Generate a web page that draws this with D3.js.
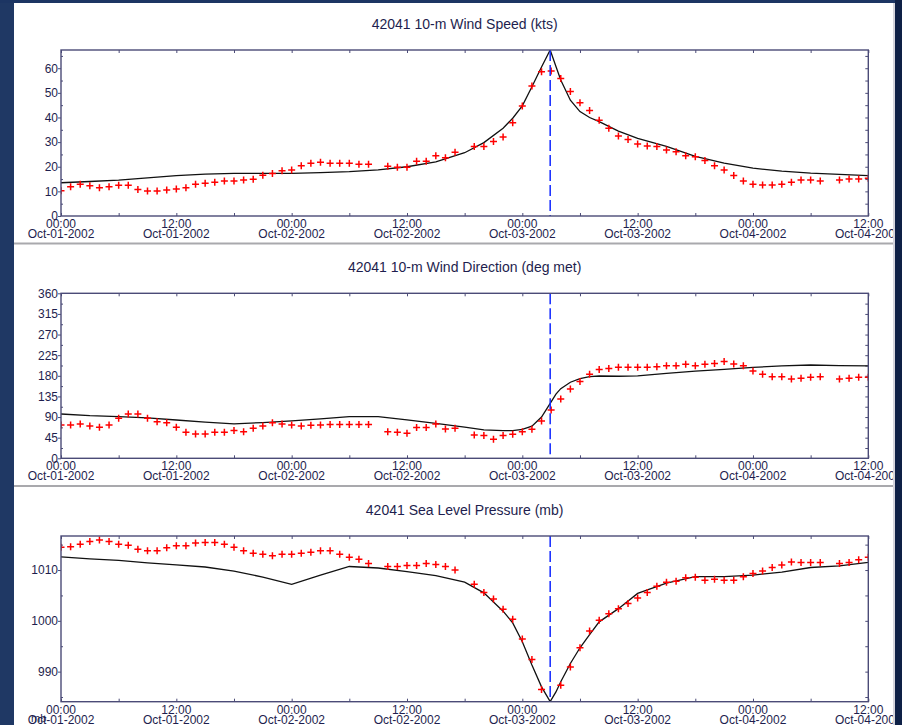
<!DOCTYPE html>
<html>
<head>
<meta charset="utf-8">
<script src="https://cdn.jsdelivr.net/npm/d3@7"></script>
<style>
  html, body { margin: 0; padding: 0; background: #1f3864; }
  svg { display: block; }
  text { font-family: "Liberation Sans", Arial, sans-serif; fill: #1e1e4e; }
</style>
</head>
<body>
<div id="chart"></div>
<script>
// observed buoy values, one per hour starting Oct-01-2002 00:00 (null = missing)
const obsSpeed = [
  10.3, 11.9, 12.9, 12.3, 11.5, 11.9, 12.5, 12.5, 10.8, 10.2, 10.2, 10.6, 11.0,
  11.5, 12.9, 13.3, 13.7, 14.2, 14.2, 14.6, 14.9, 16.5, 17.3, 18.4, 18.7,
  20.4, 21.4, 21.8, 21.4, 21.4, 21.4, 21.0, 21.0, null, 20.2, 19.8, 19.8,
  22.2, 22.2, 24.5, 23.7, 25.9, null, 28.2, 28.2, 30.2, 32.1, 37.9, 44.7,
  52.8, 58.6, 58.9, 55.8, 50.5, 46.0, 42.8, 38.9, 35.6, 32.5, 31.1, 29.2,
  28.4, 28.2, 26.8, 26.1, 24.5, 24.1, 22.5, 20.4, 18.7, 16.4, 14.2, 12.9,
  12.6, 12.6, 12.9, 13.7, 14.6, 14.6, 14.2, null, 14.6, 15.0, 15.0, 15.3
];
const obsDir = [
  72.7, 72.7, 74.9, 70.5, 67.6, 72.7, 87.3, 96.7, 96.7, 87.3, 80, 77.8, 67.6,
  56.7, 53.1, 53.1, 56.7, 56.7, 60.4, 58.2, 65.5, 70.5, 77.8, 74.9, 72.7,
  70.5, 72, 72.7, 74, 74, 74, 74, 74, null, 58.2, 56.7, 54.5,
  67, 67, 75, 64, 65.5, null, 51, 49.5, 41.5, 49.5, 52.4, 58.2,
  63.3, 81.5, 105.5, 129.5, 151.3, 167.3, 183.3, 194, 196, 198.5, 198.5, 198.5,
  198.5, 200, 202, 202, 205, 202, 205, 207, 211, 206, 202, 190.5,
  183.3, 178, 178, 173, 174.5, 176.7, 178, null, 173, 174.5, 176.7, 176.7
];
const obsPres = [
  1014.5, 1014.6, 1015.1, 1015.6, 1015.9, 1015.6, 1015.1, 1014.9, 1014.1, 1013.8, 1013.8, 1014.4, 1014.8,
  1014.8, 1015.3, 1015.4, 1015.4, 1015.1, 1014.5, 1013.8, 1013.3, 1013.1, 1012.8, 1013.1, 1013.1,
  1013.3, 1013.5, 1013.8, 1013.8, 1013.1, 1012.5, 1012.1, 1011.3, null, 1010.7, 1010.7, 1010.9,
  1010.9, 1011.3, 1011.1, 1010.7, 1010.0, null, 1007.2, 1005.6, 1004.3, 1002.3, 1000.3, 996.4,
  992.4, 986.5, null, 987.3, 990.9, 994.7, 998.0, 1000.1, 1001.4, 1002.4, 1003.4, 1004.5,
  1005.6, 1006.8, 1007.6, 1007.8, 1008.5, 1008.6, 1008.0, 1008.2, 1008.0, 1008.0, 1008.7, 1009.3,
  1009.8, 1010.5, 1011.0, 1011.6, 1011.5, 1011.5, 1011.5, null, 1011.3, 1011.5, 1012.0, 1012.5
];

// model curve, hours after Oct-01-2002 00:00
const modelHours = [0, 3, 6, 9, 12, 15, 18, 21, 24, 27, 30, 33, 36, 39, 42, 44, 46, 47, 48, 49, 50,
  50.9, 51.5, 52, 53, 54, 55, 56, 58, 60, 63, 66, 69, 72, 75, 78, 81, 84];
const modelSpeed = [13.5, 14.0, 14.6, 15.5, 16.4, 17.0, 17.3, 17.3, 17.3, 17.6, 18.0, 18.7, 20.0, 22.0,
  25.7, 29.8, 35.6, 39.7, 44.7, 52.5, 60.5, 67.4, 60.7, 55.2, 47.0, 42.4, 40.0, 38.3, 34.5, 31.5,
  28.3, 24.2, 21.5, 19.4, 18.2, 17.4, 16.9, 16.4];
const modelDir = [96.7, 93, 91, 88, 83.6, 79, 75, 78, 81.5, 86, 91, 91, 84, 76, 68, 62, 60.4, 60.4,
  63, 70, 90, 120, 140, 152, 166, 174, 178, 179.6, 179, 180, 185.5, 190, 194, 198.5, 201.5, 203.6,
  202, 201.5];
const modelPres = [1012.6, 1012.2, 1011.9, 1011.4, 1011.0, 1010.6, 1009.8, 1008.6, 1007.2, 1009.0,
  1010.7, 1010.4, 1009.7, 1008.9, 1007.6, 1005.5, 1001.9, 999.6, 995.9, 991.3, 987.0, 984.1, 986.0,
  988.0, 991.6, 994.7, 997.3, 999.8, 1002.4, 1005.4, 1007.4, 1008.7, 1008.7, 1009.0, 1009.6,
  1010.5, 1010.8, 1011.5];

// time of the vertical dashed marker (hours)
const markerHour = 50.9;

const speedTicks = [0, 10, 20, 30, 40, 50, 60];
const speedMinor = [5, 15, 25, 35, 45, 55, 65];
const dirTicks = [0, 45, 90, 135, 180, 225, 270, 315, 360];
const dirMinor = [22.5, 67.5, 112.5, 157.5, 202.5, 247.5, 292.5, 337.5];
const presTicks = [990, 1000, 1010];
const presMinor = [985, 995, 1005, 1015];

const t0 = Date.UTC(2002, 9, 1, 0, 0);
const hourToDate = (h) => new Date(t0 + h * 3600 * 1000);

const panels = [
  { title: "42041 10-m Wind Speed (kts)", obs: obsSpeed, model: modelSpeed,
    domain: [0, 67.4], ticks: speedTicks, minor: speedMinor, top: 50, bottom: 216 },
  { title: "42041 10-m Wind Direction (deg met)", obs: obsDir, model: modelDir,
    domain: [0, 360], ticks: dirTicks, minor: dirMinor, top: 293.3, bottom: 458.3 },
  { title: "42041 Sea Level Pressure (mb)", obs: obsPres, model: modelPres,
    domain: [984.08, 1016.7], ticks: presTicks, minor: presMinor, top: 536, bottom: 701.7 },
];

const W = 902, H = 725;
const left = 61, right = 868.3;
const axisColor = "#4b4b77";

const svg = d3.select("#chart").append("svg").attr("width", W).attr("height", H);

// window frame
svg.append("rect").attr("width", W).attr("height", H).attr("fill", "#1f3864");
svg.append("rect").attr("x", 14).attr("y", 3).attr("width", 879).attr("height", H - 3).attr("fill", "#ffffff");
[243.5, 486].forEach((yy) => {
  svg.append("line").attr("x1", 14).attr("x2", 893).attr("y1", yy).attr("y2", yy)
    .attr("stroke", "#a9a9ad").attr("stroke-width", 2);
});

const x = d3.scaleUtc().domain([hourToDate(0), hourToDate(84)]).range([left, right]);

panels.forEach((p, i) => {
  const y = d3.scaleLinear().domain(p.domain).range([p.bottom, p.top]);
  const g = svg.append("g");

  g.append("clipPath").attr("id", "clip" + i).append("rect")
    .attr("x", left).attr("y", p.top).attr("width", right - left).attr("height", p.bottom - p.top);

  // title
  g.append("text")
    .attr("x", (left + right) / 2)
    .attr("y", p.top - 21)
    .attr("text-anchor", "middle")
    .style("font-size", "14px")
    .text(p.title);

  // axes
  const sixHours = d3.utcHour.every(6);
  const axes = [
    g.append("g").attr("transform", "translate(0," + p.top + ")")
      .call(d3.axisTop(x).ticks(sixHours).tickSize(-3).tickFormat("")),
    g.append("g").attr("transform", "translate(0," + p.bottom + ")")
      .call(d3.axisBottom(x).ticks(sixHours).tickSize(-3).tickFormat("")),
    g.append("g").attr("transform", "translate(" + left + ",0)")
      .call(d3.axisLeft(y).tickValues(p.ticks).tickSize(3).tickPadding(0).tickFormat(d3.format("d"))),
    g.append("g").attr("transform", "translate(" + left + ",0)")
      .call(d3.axisLeft(y).tickValues(p.minor.filter((v) => v > p.domain[0] && v < p.domain[1]))
        .tickSize(-2).tickFormat("")),
    g.append("g").attr("transform", "translate(" + right + ",0)")
      .call(d3.axisRight(y).tickValues(p.ticks.concat(p.minor).filter((v) => v > p.domain[0] && v < p.domain[1]))
        .tickSize(-3).tickFormat("")),
  ];
  axes.forEach((a) => {
    a.select(".domain").remove();
    a.selectAll("line").attr("stroke", axisColor);
    a.selectAll("text").style("font-size", "12px").attr("fill", "#1e1e4e")
      .style("font-family", '"Liberation Sans", Arial, sans-serif');
  });

  // two-line time labels
  const lab = g.selectAll(".xl").data(x.ticks(d3.utcHour.every(12))).enter().append("text")
    .attr("class", "xl")
    .attr("y", p.bottom + 12)
    .attr("text-anchor", "middle")
    .style("font-size", "12px");
  lab.append("tspan").attr("x", (d) => x(d)).text(d3.utcFormat("%H:%M"));
  lab.append("tspan").attr("x", (d) => x(d)).attr("dy", 9.8).text(d3.utcFormat("%b-%d-%Y"));

  const plot = g.append("g").attr("clip-path", "url(#clip" + i + ")");

  // model line
  const line = d3.line()
    .x((d) => x(hourToDate(d[0])))
    .y((d) => y(d[1]));
  plot.append("path")
    .attr("d", line(modelHours.map((h, k) => [h, p.model[k]])))
    .attr("fill", "none")
    .attr("stroke", "#111111")
    .attr("stroke-width", 1.3);

  // observations as red crosses
  plot.selectAll(".obs")
    .data(p.obs.map((v, h) => [h, v]).filter((d) => d[1] !== null))
    .enter().append("path")
    .attr("class", "obs")
    .attr("transform", (d) => "translate(" + x(hourToDate(d[0])) + "," + y(d[1]) + ")")
    .attr("d", "M-3.5,0H3.5M0,-3.5V3.5")
    .attr("stroke", "#ff0000")
    .attr("stroke-width", 1.5);

  // dashed marker
  g.append("line")
    .attr("x1", x(hourToDate(markerHour))).attr("x2", x(hourToDate(markerHour)))
    .attr("y1", p.top).attr("y2", p.bottom)
    .attr("stroke", "#1028ff")
    .attr("stroke-width", 1.5)
    .attr("stroke-dasharray", "11,4");

  // frame
  g.append("rect")
    .attr("x", left).attr("y", p.top)
    .attr("width", right - left).attr("height", p.bottom - p.top)
    .attr("fill", "none")
    .attr("stroke", axisColor)
    .attr("stroke-width", 1.4);
});

// stray unit label overlapping the first date at the bottom
svg.append("text").attr("x", 31).attr("y", 722).style("font-size", "11px").text("mb");

// window edges drawn over the clipped labels
svg.append("rect").attr("x", 0).attr("y", 0).attr("width", W).attr("height", 3).attr("fill", "#1c3563");
svg.append("rect").attr("x", 893).attr("y", 3).attr("width", 2).attr("height", H).attr("fill", "#d4d4dc");
svg.append("rect").attr("x", 895).attr("y", 0).attr("width", 7).attr("height", H).attr("fill", "#0e2046");
</script>
</body>
</html>
